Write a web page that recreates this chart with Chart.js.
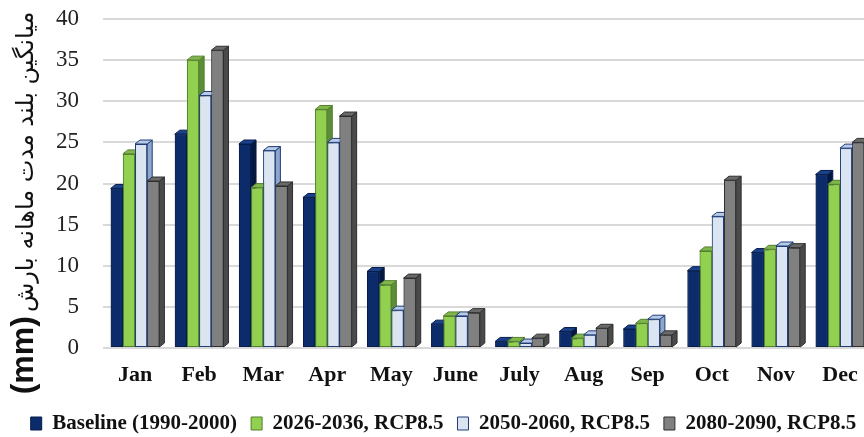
<!DOCTYPE html>
<html>
<head>
<meta charset="utf-8">
<script src="https://cdn.jsdelivr.net/npm/chart.js@4.4.0/dist/chart.umd.min.js"></script>
<style>
    html, body { margin: 0; padding: 0; overflow: hidden; background: #fff; width: 864px; height: 437px; }
    #wrap { position: relative; width: 864px; height: 437px; overflow: hidden; }
    #chart { position: absolute; left: 0; top: 0; }
    #ytitle {
        position: absolute;
        left: -178px; top: 194px;
        width: 400px; height: 30px; line-height: 30px;
        text-align: center; white-space: nowrap;
        transform: rotate(-90deg);
        color: #111;
    }
    #ytitle .fa { font-family: "DejaVu Sans"; font-size: 24px; }
    #ytitle .mm { font-family: "Liberation Sans", Arial; font-weight: bold; font-size: 32px; margin-left: 12px; }
</style>
</head>
<body>
<div id="wrap">
    <canvas id="chart" width="890" height="444"></canvas>
    <div id="ytitle" dir="rtl"><span class="fa">میانگین بلند مدت ماهانه بارش</span> <span class="mm">(mm)</span></div>
</div>
<script>
    // Monthly long-term precipitation (mm)
    const months = ['Jan', 'Feb', 'Mar', 'Apr', 'May', 'June', 'July', 'Aug', 'Sep', 'Oct', 'Nov', 'Dec'];
    const seriesNames = ['Baseline (1990-2000)', '2026-2036, RCP8.5', '2050-2060, RCP8.5', '2080-2090, RCP8.5'];
    const baseline = [19.4, 26.0, 24.8, 18.3, 9.3, 2.9, 0.8, 2.0, 2.3, 9.4, 11.6, 21.1];
    const rcp2026 = [23.6, 35.0, 19.5, 29.0, 7.7, 3.9, 0.8, 1.2, 3.0, 11.8, 12.0, 19.9];
    const rcp2050 = [24.8, 30.7, 24.0, 25.0, 4.6, 3.9, 0.6, 1.6, 3.5, 16.0, 12.4, 24.3];
    const rcp2080 = [20.3, 36.2, 19.7, 28.2, 8.5, 4.3, 1.2, 2.4, 1.6, 20.4, 12.2, 25.0];
    const yTicks = [0, 5, 10, 15, 20, 25, 30, 35, 40];

    // front, outline, top face, side face
    const palette = [
        { front: '#0b2b6b', border: '#061c4a', top: '#1b418a', side: '#041840' },
        { front: '#92d050', border: '#557f30', top: '#80b74a', side: '#5c8e34' },
        { front: '#dbe5f1', border: '#1f3c78', top: '#b8cbe6', side: '#8ea6cc' },
        { front: '#808080', border: '#2e2e2e', top: '#6a6a6a', side: '#4a4a4a' }
    ];
    const depthX = 5, depthY = 4;

    // redraw bars in dataset order with a simple 3D top and side face
    const bars3d = {
        id: 'bars3d',
        afterDatasetsDraw(chart) {
            const ctx = chart.ctx;
            ctx.save();
            chart.data.datasets.forEach((ds, i) => {
                const meta = chart.getDatasetMeta(i);
                const c = palette[i];
                meta.data.forEach(bar => {
                    const left = bar.x - bar.width / 2;
                    const right = bar.x + bar.width / 2;
                    const top = bar.y, base = bar.base;
                    bar.draw(ctx);
                    ctx.lineWidth = 1;
                    ctx.strokeStyle = c.border;
                    // side
                    ctx.beginPath();
                    ctx.moveTo(right, top);
                    ctx.lineTo(right + depthX, top - depthY);
                    ctx.lineTo(right + depthX, base - depthY);
                    ctx.lineTo(right, base);
                    ctx.closePath();
                    ctx.fillStyle = c.side;
                    ctx.fill();
                    ctx.stroke();
                    // top
                    ctx.beginPath();
                    ctx.moveTo(left, top);
                    ctx.lineTo(left + depthX, top - depthY);
                    ctx.lineTo(right + depthX, top - depthY);
                    ctx.lineTo(right, top);
                    ctx.closePath();
                    ctx.fillStyle = c.top;
                    ctx.fill();
                    ctx.stroke();
                });
            });
            ctx.restore();
        }
    };

    const seriesValues = [baseline, rcp2026, rcp2050, rcp2080];
    const serif = '"Liberation Serif", "Times New Roman", serif';

    const ctx = document.getElementById('chart').getContext('2d');
    const chart = new Chart(ctx, {
        type: 'bar',
        data: {
            labels: months,
            datasets: seriesValues.map((values, i) => ({
                label: seriesNames[i],
                data: values,
                backgroundColor: palette[i].front,
                borderColor: palette[i].border,
                borderWidth: 1,
                borderSkipped: false,
                categoryPercentage: 0.76,
                barPercentage: 1.0
            }))
        },
        options: {
            responsive: false,
            animation: false,
            devicePixelRatio: 1,
            layout: {
                padding: { top: 19, right: 18, bottom: 0, left: 15 }
            },
            plugins: {
                tooltip: { enabled: false },
                legend: {
                    position: 'bottom',
                    labels: {
                        boxWidth: 11,
                        boxHeight: 13,
                        padding: 14,
                        color: '#111',
                        font: { family: serif, size: 21, weight: 'bold' }
                    }
                }
            },
            scales: {
                x: {
                    grid: { display: false },
                    border: { display: false },
                    ticks: {
                        color: '#111',
                        padding: 6,
                        font: { family: serif, size: 22, weight: 'bold' }
                    },
                    afterFit(scale) { scale.height = 51; }
                },
                y: {
                    min: 0,
                    max: 40,
                    afterBuildTicks(scale) { scale.ticks = yTicks.map(v => ({ value: v })); },
                    grid: { color: '#d9d9d9', lineWidth: 2, drawTicks: false },
                    border: { display: false },
                    ticks: {
                        color: '#222',
                        padding: 24,
                        font: { family: serif, size: 23 }
                    },
                    afterFit(scale) {
                        scale.width = 88;
                        scale.paddingTop = 0;
                        scale.paddingBottom = 0;
                    }
                }
            }
        },
        plugins: [bars3d]
    });
</script>
</body>
</html>
